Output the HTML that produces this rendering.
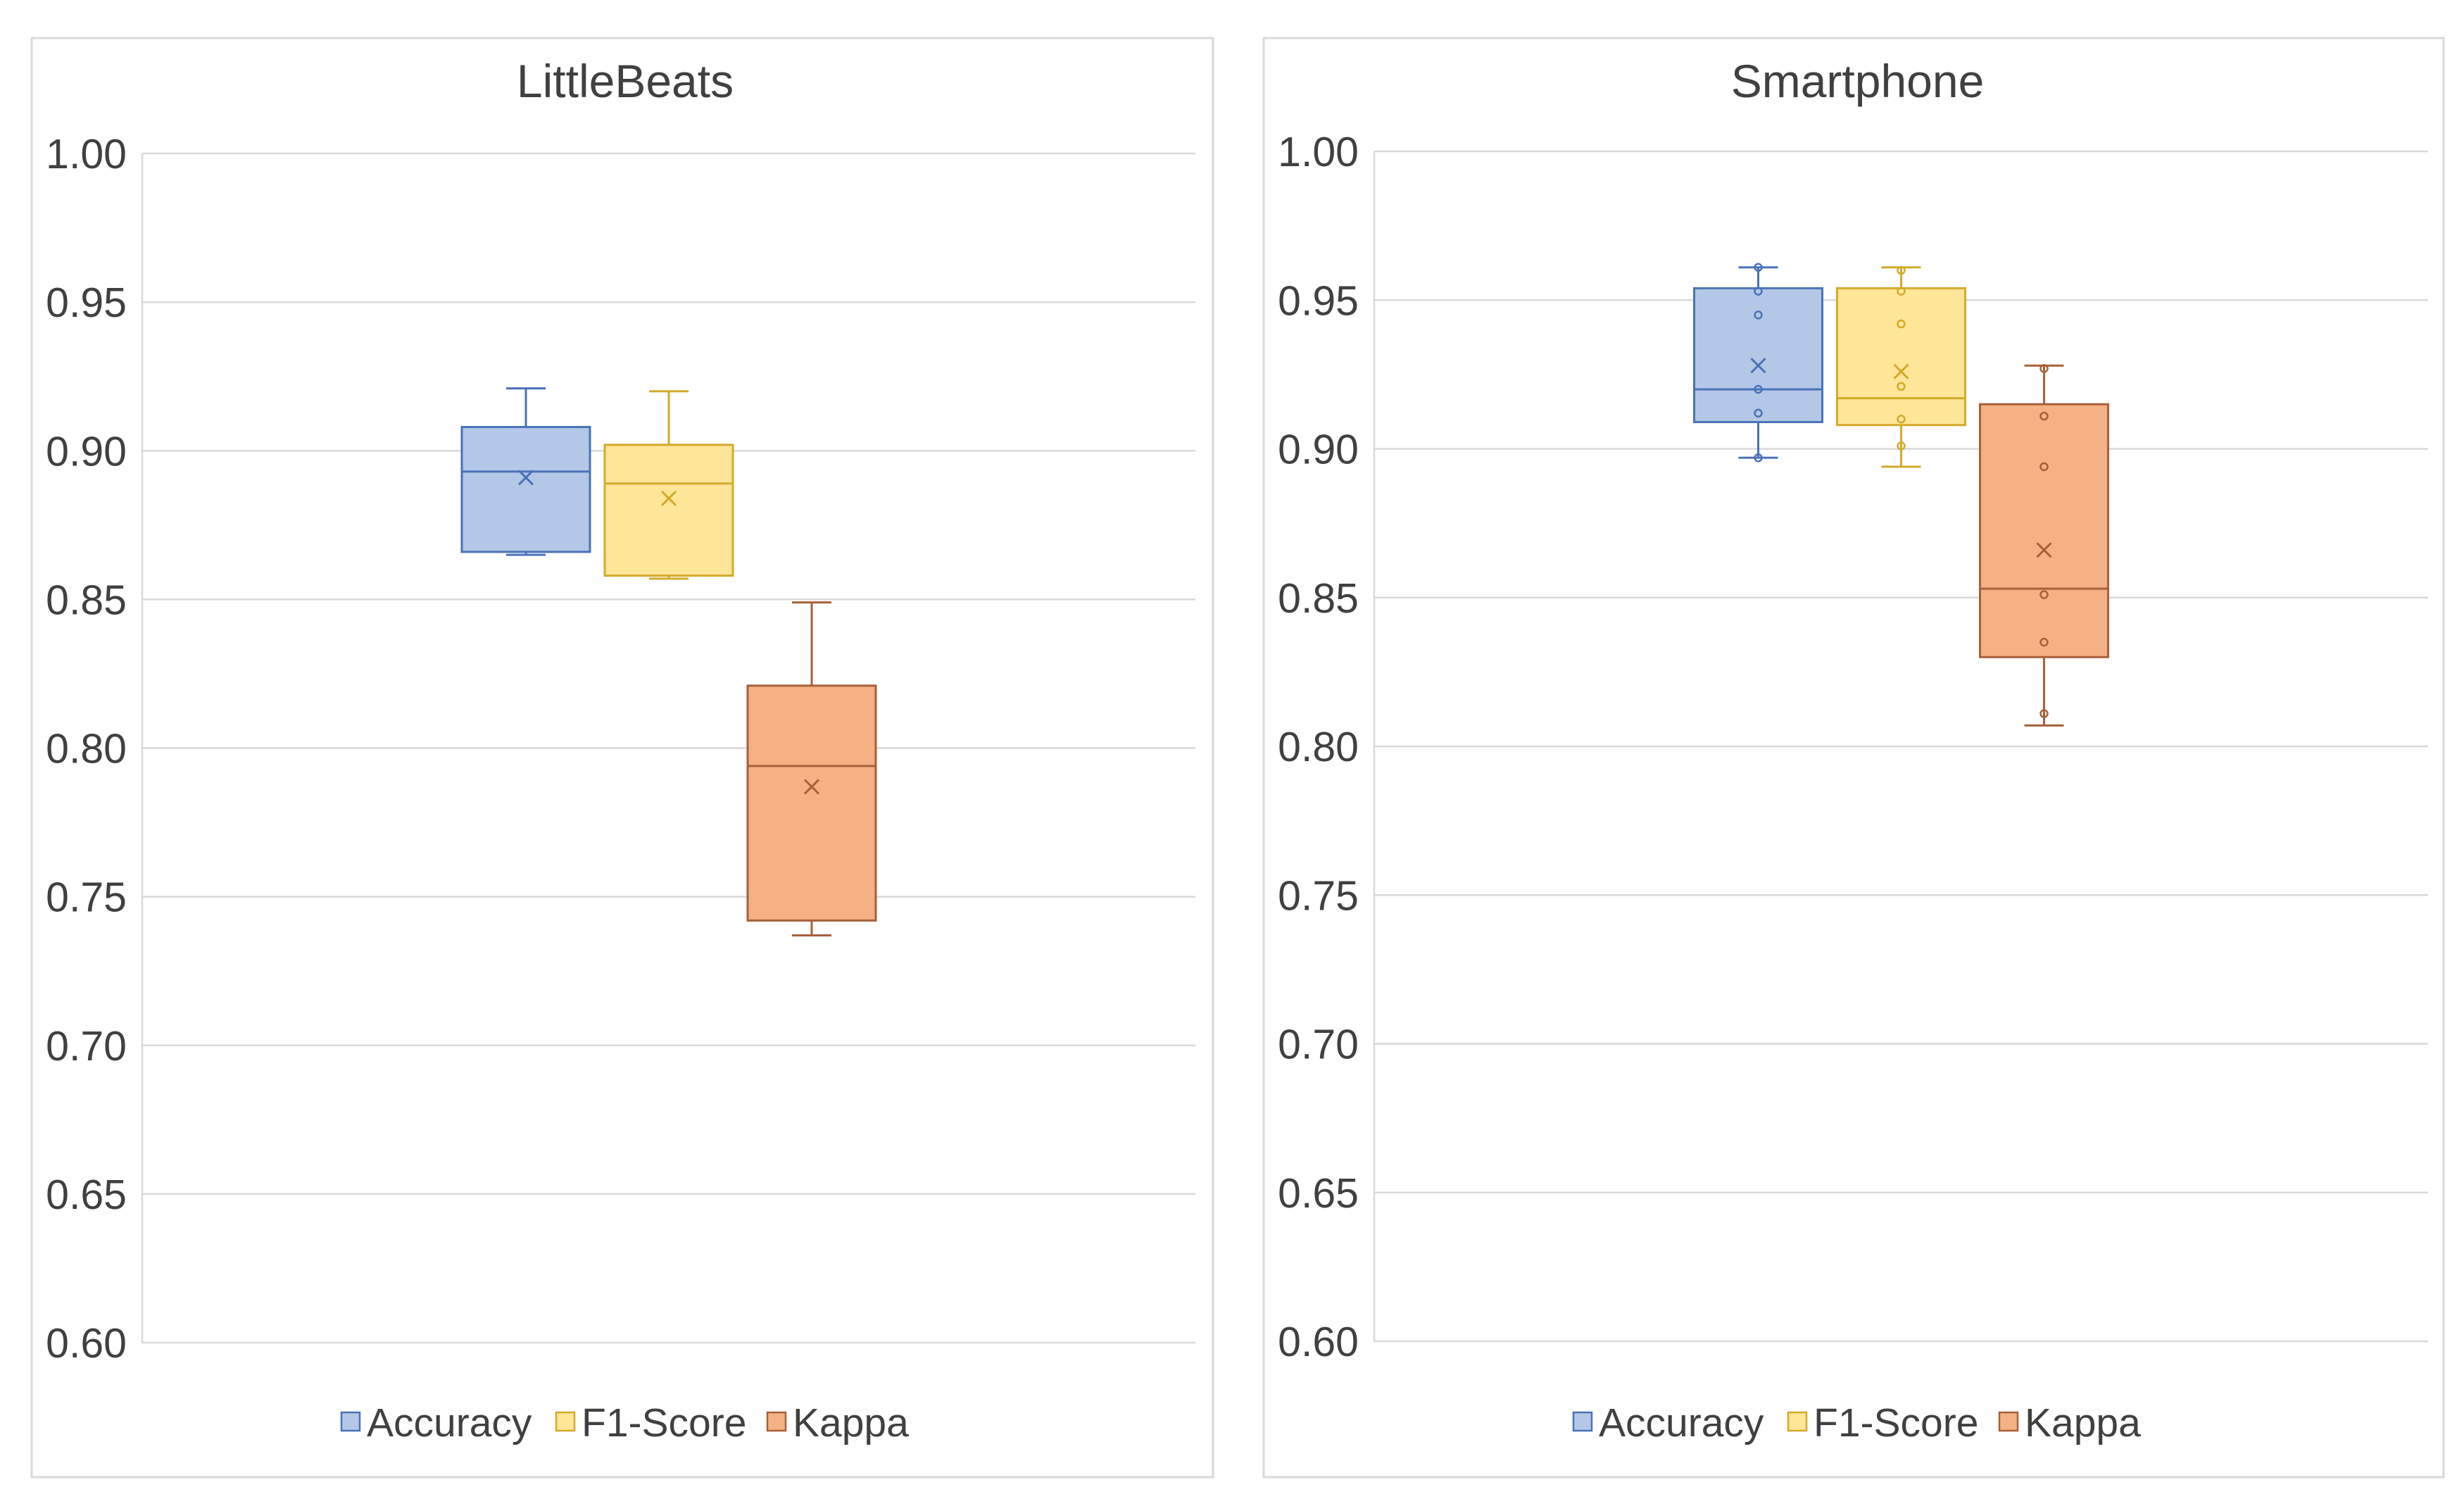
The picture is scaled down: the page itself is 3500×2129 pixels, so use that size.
<!DOCTYPE html>
<html><head><meta charset="utf-8"><style>
html,body{margin:0;padding:0;background:#fff;}
svg{display:block;font-family:"Liberation Sans",sans-serif;}
</style></head><body>
<svg id="chart" width="3500" height="2129" viewBox="0 0 3500 2129" xmlns="http://www.w3.org/2000/svg"></svg>
<script>
const ticks = [0.60,0.65,0.70,0.75,0.80,0.85,0.90,0.95,1.00];
const tickLabels = ["0.60","0.65","0.70","0.75","0.80","0.85","0.90","0.95","1.00"];
const seriesNames = ["Accuracy","F1-Score","Kappa"];
const panelTitles = ["LittleBeats","Smartphone"];
// LittleBeats: [min, q1, median, q3, max, mean]
const lbAccuracy = [0.865,0.866,0.893,0.908,0.921,0.891];
const lbF1 = [0.857,0.858,0.889,0.902,0.920,0.884];
const lbKappa = [0.737,0.742,0.794,0.821,0.849,0.787];
// Smartphone
const spAccuracy = [0.897,0.909,0.920,0.954,0.961,0.928];
const spF1 = [0.894,0.908,0.917,0.954,0.961,0.926];
const spKappa = [0.807,0.830,0.853,0.915,0.928,0.866];
const spAccuracyPts = [0.961,0.953,0.945,0.920,0.912,0.897];
const spF1Pts = [0.960,0.953,0.942,0.921,0.910,0.901];
const spKappaPts = [0.927,0.911,0.894,0.851,0.835,0.811];

const fills=["#b4c7e7","#ffe699","#f4b183"];
const strokes=["#4a72b8","#d4aa2a","#a8603a"];
const svg=document.getElementById('chart');
const NS="http://www.w3.org/2000/svg";
function mk(tag,attrs,parent){const e=document.createElementNS(NS,tag);for(const k in attrs)e.setAttribute(k,attrs[k]);(parent||svg).appendChild(e);return e;}

const panels=[
 {bx:45,bw:1678,px0:202,px1:1698,y1:218,y0:1907,data:[lbAccuracy,lbF1,lbKappa],pts:null},
 {bx:1795,bw:1676,px0:1952,px1:3449,y1:215,y0:1905,data:[spAccuracy,spF1,spKappa],pts:[spAccuracyPts,spF1Pts,spKappaPts]}
];
panels.forEach((p,pi)=>{
 const g=mk('g',{});
 
 
 const border=mk('rect',{x:p.bx,y:54,width:p.bw,height:2044,fill:'#fff',stroke:'#d9d9d9','stroke-width':3},g);
 
 
 const yS=v=>p.y0+(v-0.60)/(0.40)*(p.y1-p.y0);
 const t=mk('text',{x:(p.px0+p.px1)/2-62,y:138,'font-size':66,'text-anchor':'middle',fill:'#404040'},g);
 t.textContent=panelTitles[pi];
 
 
 ticks.forEach((v,i)=>{
  const y=yS(v);
  const l=mk('line',{x1:p.px0,x2:p.px1,y1:y,y2:y,stroke:'#d9d9d9','stroke-width':2.5},g);
  
  
  const tl=mk('text',{x:p.px0-22,y:y+21,'font-size':59,'text-anchor':'end',fill:'#404040'},g);
  tl.textContent=tickLabels[i];
  
  
 });
 const ax=mk('line',{x1:p.px0,x2:p.px0,y1:p.y1,y2:p.y0,stroke:'#d9d9d9','stroke-width':2.5},g);
 
 
 const mid=(p.px0+p.px1)/2, gap=203, bw=182;
 p.data.forEach((d,si)=>{
  const cx=mid+(si-1)*gap;
  const bg=mk('g',{},g);
  
  
  const sc=strokes[si];
  mk('line',{x1:cx,x2:cx,y1:yS(d[4]),y2:yS(d[3]),stroke:sc,'stroke-width':3},bg);
  mk('line',{x1:cx,x2:cx,y1:yS(d[1]),y2:yS(d[0]),stroke:sc,'stroke-width':3},bg);
  mk('line',{x1:cx-28,x2:cx+28,y1:yS(d[4]),y2:yS(d[4]),stroke:sc,'stroke-width':3},bg);
  mk('line',{x1:cx-28,x2:cx+28,y1:yS(d[0]),y2:yS(d[0]),stroke:sc,'stroke-width':3},bg);
  mk('rect',{x:cx-bw/2,y:yS(d[3]),width:bw,height:yS(d[1])-yS(d[3]),fill:fills[si],stroke:sc,'stroke-width':3},bg);
  mk('line',{x1:cx-bw/2,x2:cx+bw/2,y1:yS(d[2]),y2:yS(d[2]),stroke:sc,'stroke-width':3},bg);
  const my=yS(d[5]);
  mk('path',{d:`M${cx-10} ${my-10}L${cx+10} ${my+10}M${cx+10} ${my-10}L${cx-10} ${my+10}`,stroke:sc,'stroke-width':3},bg);
  if(p.pts){p.pts[si].forEach(v=>{mk('circle',{cx:cx,cy:yS(v),r:5,fill:'none',stroke:sc,'stroke-width':2.5},bg);});}
 });
 const lg=mk('g',{},g);
 
 
 const lx=[p.bx+440,p.bx+745,p.bx+1045];
 seriesNames.forEach((n,si)=>{
  const e=mk('g',{},lg);
  
  
  mk('rect',{x:lx[si],y:2006,width:26,height:26,fill:fills[si],stroke:strokes[si],'stroke-width':2.5},e);
  const tx=mk('text',{x:lx[si]+36,y:2040,'font-size':57,fill:'#404040'},e);
  tx.textContent=n;
 });
});
</script>
</body></html>
